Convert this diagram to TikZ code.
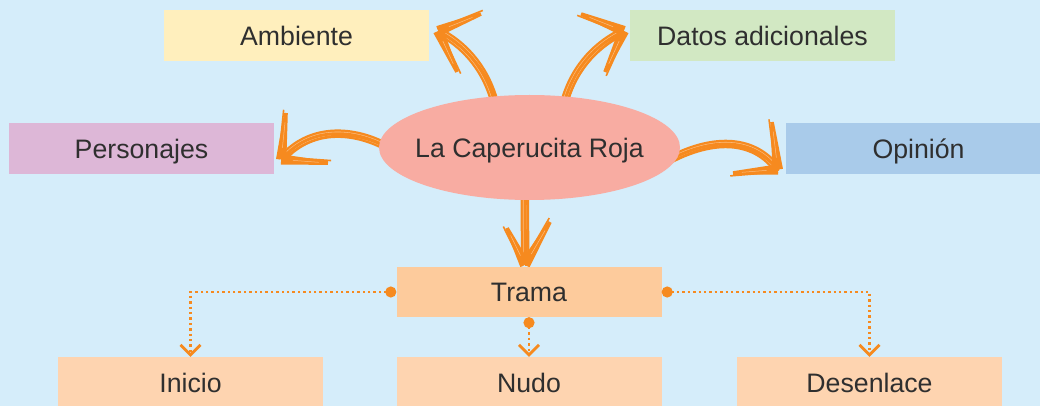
\documentclass[tikz,border=0pt]{standalone}
\usepackage{fontspec}
\setmainfont{Liberation Sans}
\usetikzlibrary{arrows.meta,calc,shapes.geometric}
\definecolor{bgc}{HTML}{D5EDFA}
\definecolor{ambc}{HTML}{FFEFBD}
\definecolor{datc}{HTML}{D2E8C3}
\definecolor{perc}{HTML}{DDB7D7}
\definecolor{opic}{HTML}{A9CBEA}
\definecolor{ellc}{HTML}{F8ACA2}
\definecolor{trac}{HTML}{FDCB9C}
\definecolor{botc}{HTML}{FED4B0}
\definecolor{orc}{HTML}{F68A1F}
\definecolor{streak}{HTML}{FBBE80}
\definecolor{txt}{HTML}{2F2F2F}
\pgfdeclarelayer{back}
\pgfdeclarelayer{mid}
\pgfsetlayers{back,mid,main}
\newcommand\skbarb[2]{%
  \fill[orc] ($(#1)!5.2pt!90:(#2)$) -- ($(#2)!1.8pt!-90:(#1)$) -- ($(#2)!1.8pt!90:(#1)$) -- ($(#1)!5.2pt!-90:(#2)$) -- cycle;
  \draw[orc, line width=1.6pt] ($(#1)!2.5pt!90:(#2)$) -- ($($(#2)!2.5pt!-90:(#1)$)!-3pt!(#1)$);
  \draw[streak, line width=0.5pt] ($(#1)!0.25!(#2)$) -- ($(#1)!0.8!(#2)$);
}
\newcommand\skarrow[6]{%
  \coordinate (sk-e) at ($(#4)!6pt!(#3)$);
  \draw[orc, line width=8.5pt] (#1) .. controls (#2) and (#3) .. (sk-e);
  \draw[streak, line width=0.6pt, double=orc, double distance=2.8pt] (#1) .. controls (#2) and (#3) .. (sk-e);
  \draw[orc, line width=2pt] ($(#1)+(2,2)$) .. controls ($(#2)+(3,1)$) and ($(#3)+(2,2)$) .. ($(#4)+(1,1)$);
  \skbarb{#4}{#5}
  \skbarb{#4}{#6}
}
\begin{document}
\begin{tikzpicture}[x=1pt,y=-1pt,
  box/.style={minimum width=265pt, minimum height=51pt, inner sep=0pt, text=txt,
    font=\fontsize{26.7pt}{30pt}\selectfont, text height=19.2pt, text depth=0pt},
  lbl/.style={inner sep=0pt, text=txt, font=\fontsize{26.7pt}{30pt}\selectfont, text height=19.2pt, text depth=0pt},
  dotl/.style={draw=orc, line width=2.4pt, dash pattern=on 2.4pt off 3pt,
    {Circle[length=11pt,fill=orc]}-{Straight Barb[length=10pt,width=20pt,line width=2.8pt]}}]
\begin{pgfonlayer}{back}
\fill[bgc] (0,0) rectangle (1040,406);
\end{pgfonlayer}
\useasboundingbox (0,0) rectangle (1040,406);

\node[box, fill=ambc] (amb) at (296.5,35.5) {Ambiente};
\node[box, fill=datc] (dat) at (762.5,35.5) {Datos adicionales};
\node[box, fill=perc] (per) at (141.5,148.5) {Personajes};
\node[box, fill=opic] (opi) at (918.5,148.5) {Opinión};
\node[ellipse, fill=ellc, minimum width=301pt, minimum height=105pt, inner sep=0pt] (ell) at (529.5,147.5) {};
\node[lbl] (elltxt) at (ell.center) {La Caperucita Roja};
\node[box, fill=trac, minimum height=50pt] (tra) at (529,292) {Trama};
\node[box, fill=botc] (ini) at (190.5,382.5) {Inicio};
\node[box, fill=botc] (nud) at (529,382.5) {Nudo};
\node[box, fill=botc] (des) at (869.5,382.5) {Desenlace};

\coordinate (tA) at ($(amb.east)+(9,-4.5)$);
\coordinate (tD) at ($(dat.west)+(-6,-4.5)$);
\coordinate (tP) at ($(per.east)+(7,11)$);
\coordinate (tO) at ($(opi.west)+(-8,21)$);
\coordinate (tT) at ($(tra.north)+(-4,-2)$);

\begin{pgfonlayer}{mid}
\skarrow{$(ell.125)+(2,10)$}{487,70}{466,47}{tA}{481,14}{457,72}
\skarrow{$(ell.55)+(-2,10)$}{572,70}{594,47}{tD}{581,14}{605,72}
\skarrow{$(ell.178)+(8,5)$}{352,128}{312,128}{tP}{286,113}{328,163}
\skarrow{$(ell.-3)+(-8,4)$}{712,138}{750,138}{tO}{772,122}{733,173}
\skarrow{$(ell.265)+(0,-6)$}{525,215}{525,240}{tT}{507,228}{550,222}
\end{pgfonlayer}

\draw[dotl] (tra.west) -| (ini.north);
\draw[dotl] (tra.south) -- (nud.north);
\draw[dotl] (tra.east) -| (des.north);
\end{tikzpicture}
\end{document}
